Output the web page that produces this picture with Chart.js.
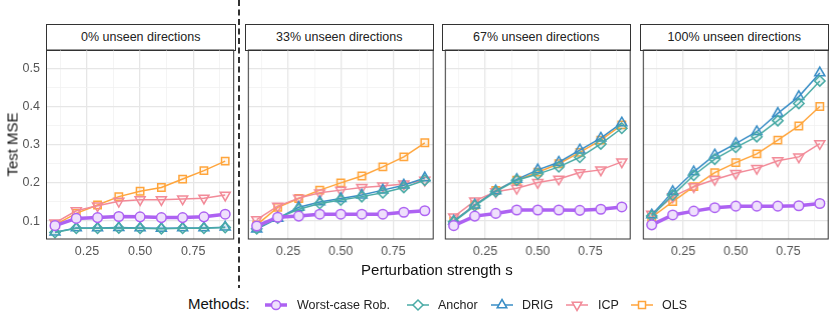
<!DOCTYPE html>
<html>
<head>
<meta charset="utf-8">
<script src="https://cdn.jsdelivr.net/npm/chart.js@4.4.1/dist/chart.umd.min.js"></script>
<style>
  body { margin: 0; background: #fff; font-family: "Liberation Sans", Arial, sans-serif; }
  #wrap { position: relative; width: 830px; height: 316px; overflow: hidden; }
  .cv { position: absolute; }
  .strip { position: absolute; top: 24px; height: 25px; border: 1px solid #333; background: #fff;
           font-size: 12.5px; color: #222; text-align: center; line-height: 25px; box-sizing: content-box; }
  .lbl { position: absolute; color: #111; white-space: nowrap; }
  .leg { position: absolute; top: 297px; }
  .legtxt { position: absolute; top: 297px; font-size: 12.5px; color: #222; line-height: 16px; white-space: nowrap; }
</style>
</head>
<body>
<div id="wrap">
  <svg style="position:absolute;left:0;top:0" width="830" height="316">
    <line x1="239" y1="0" x2="239" y2="288" stroke="#000" stroke-width="1.6" stroke-dasharray="6 3.5"/>
  </svg>
</div>
<script>
// perturbation strength
var strengths = [0.1, 0.2, 0.3, 0.4, 0.5, 0.6, 0.7, 0.8, 0.9];
var panels = ["0% unseen directions", "33% unseen directions", "67% unseen directions", "100% unseen directions"];
var methods = ["Worst-case Rob.", "Anchor", "DRIG", "ICP", "OLS"];
var yTicks = [0.1, 0.2, 0.3, 0.4, 0.5];
var xTicks = [0.25, 0.50, 0.75];

// Test MSE, one row per panel
var worstCase = [
  [0.088, 0.107, 0.109, 0.112, 0.111, 0.109, 0.109, 0.111, 0.118],
  [0.087, 0.110, 0.113, 0.118, 0.118, 0.118, 0.118, 0.123, 0.127],
  [0.088, 0.113, 0.120, 0.129, 0.129, 0.129, 0.128, 0.131, 0.137],
  [0.090, 0.116, 0.126, 0.135, 0.139, 0.139, 0.139, 0.140, 0.146]
];
var anchor = [
  [0.070, 0.081, 0.081, 0.082, 0.081, 0.080, 0.081, 0.081, 0.083],
  [0.080, 0.108, 0.131, 0.146, 0.155, 0.164, 0.174, 0.188, 0.207],
  [0.098, 0.140, 0.177, 0.207, 0.223, 0.242, 0.267, 0.302, 0.343],
  [0.113, 0.168, 0.220, 0.262, 0.293, 0.321, 0.363, 0.408, 0.467]
];
var drig = [
  [0.071, 0.082, 0.082, 0.083, 0.082, 0.081, 0.082, 0.082, 0.084],
  [0.079, 0.107, 0.136, 0.150, 0.159, 0.168, 0.181, 0.194, 0.213],
  [0.100, 0.142, 0.179, 0.209, 0.234, 0.254, 0.286, 0.317, 0.357],
  [0.116, 0.177, 0.229, 0.273, 0.303, 0.334, 0.382, 0.426, 0.488]
];
var icp = [
  [0.095, 0.127, 0.140, 0.152, 0.156, 0.156, 0.158, 0.160, 0.168],
  [0.104, 0.139, 0.160, 0.174, 0.181, 0.188, 0.192, 0.197, 0.207],
  [0.111, 0.153, 0.177, 0.186, 0.201, 0.210, 0.227, 0.234, 0.255],
  [0.118, 0.164, 0.190, 0.209, 0.225, 0.238, 0.258, 0.268, 0.303]
];
var ols = [
  [0.090, 0.120, 0.142, 0.164, 0.178, 0.188, 0.210, 0.232, 0.257],
  [0.090, 0.136, 0.159, 0.181, 0.200, 0.218, 0.242, 0.268, 0.305],
  [0.100, 0.142, 0.180, 0.207, 0.228, 0.250, 0.280, 0.312, 0.352],
  [0.110, 0.151, 0.190, 0.227, 0.253, 0.276, 0.312, 0.349, 0.400]
];

var series = [worstCase, anchor, drig, icp, ols];
var colors = ["#ad62f2", "#4aaba6", "#3a8ec6", "#f28a98", "#ffa53c"];
var fills  = ["#efe0fc", "rgba(74,171,166,0.12)", "rgba(58,142,198,0.10)", "rgba(242,138,152,0.10)", "rgba(255,165,60,0.10)"];
var shapes = ["circle", "rectRot", "triangle", "triangle", "rect"];
var rotations = [0, 0, 0, 180, 0];
var radii = [4.8, 5.2, 5.8, 5.8, 5.2];
var widths = [3.5, 1.5, 1.5, 1.5, 1.5];

var FONT = "'Liberation Sans', Arial, sans-serif";
var wrap = document.getElementById("wrap");
var plotLefts = [46.5, 245, 442, 640];
var plotW = 188.5, plotTop = 50, plotBottom = 239;

function isMajor(v, step) {
  return Math.abs(v / step - Math.round(v / step)) < 1e-6;
}

var panelBorder = {
  id: "panelBorder",
  afterDraw: function (chart) {
    var a = chart.chartArea, c = chart.ctx;
    c.save();
    c.strokeStyle = "#333";
    c.lineWidth = 1;
    c.strokeRect(a.left, a.top, a.right - a.left, a.bottom - a.top);
    c.restore();
  }
};

panels.forEach(function (title, p) {
  var first = p === 0;
  var padL = first ? 0 : 4;
  var left = first ? 0 : plotLefts[p] - padL;
  var canvasTop = 34, canvasH = 236;
  var w = plotLefts[p] + plotW - left + 6;

  var strip = document.createElement("div");
  strip.className = "strip";
  strip.style.left = (plotLefts[p] - 0.5) + "px";
  strip.style.width = (plotW - 1) + "px";
  strip.textContent = title;
  wrap.appendChild(strip);

  var holder = document.createElement("div");
  holder.className = "cv";
  holder.style.left = left + "px";
  holder.style.top = canvasTop + "px";
  holder.style.width = w + "px";
  holder.style.height = canvasH + "px";
  var cv = document.createElement("canvas");
  holder.appendChild(cv);
  wrap.appendChild(holder);

  var datasets = methods.map(function (m, i) {
    return {
      label: m,
      data: strengths.map(function (s, k) { return { x: s, y: series[i][p][k] }; }),
      borderColor: colors[i],
      backgroundColor: fills[i],
      borderWidth: widths[i],
      pointStyle: shapes[i],
      pointRotation: rotations[i],
      pointRadius: radii[i],
      pointBorderWidth: 1.5,
      pointBackgroundColor: fills[i],
      pointBorderColor: colors[i],
      tension: 0,
      clip: false
    };
  });

  new Chart(cv, {
    type: "line",
    data: { datasets: datasets },
    plugins: [panelBorder],
    options: {
      responsive: true,
      maintainAspectRatio: false,
      animation: false,
      events: [],
      layout: { padding: { top: plotTop - canvasTop, right: 6, left: padL, bottom: 0 } },
      plugins: { legend: { display: false }, tooltip: { enabled: false } },
      scales: {
        x: {
          type: "linear",
          min: 0.06, max: 0.94,
          afterBuildTicks: function (s) {
            s.ticks = [0.125, 0.25, 0.375, 0.5, 0.625, 0.75, 0.875].map(function (v) { return { value: v }; });
          },
          afterFit: function (s) { s.height = canvasTop + canvasH - plotBottom; },
          ticks: {
            autoSkip: false, maxRotation: 0, padding: 5,
            color: "#555", font: { family: FONT, size: 12.5 },
            callback: function (v) { return xTicks.some(function (t) { return Math.abs(t - v) < 1e-6; }) ? v.toFixed(2) : ""; }
          },
          grid: {
            drawTicks: false,
            color: function (c) { return c.tick && isMajor(c.tick.value, 0.25) ? "#e6e6e6" : "#f1f1f1"; },
            lineWidth: function (c) { return c.tick && isMajor(c.tick.value, 0.25) ? 1.3 : 0.8; }
          },
          border: { display: false }
        },
        y: {
          min: 0.053, max: 0.548,
          afterBuildTicks: function (s) {
            var t = [];
            for (var k = 0; k <= 8; k++) t.push({ value: Math.round((0.1 + k * 0.05) * 100) / 100 });
            s.ticks = t;
          },
          afterFit: function (s) { s.width = first ? plotLefts[0] : 0; },
          ticks: {
            display: first, padding: 6.5,
            color: "#555", font: { family: FONT, size: 12.5 },
            callback: function (v) { return yTicks.some(function (t) { return Math.abs(t - v) < 1e-6; }) ? v.toFixed(1) : ""; }
          },
          grid: {
            drawTicks: false,
            color: function (c) { return c.tick && isMajor(c.tick.value, 0.1) ? "#e6e6e6" : "#f1f1f1"; },
            lineWidth: function (c) { return c.tick && isMajor(c.tick.value, 0.1) ? 1.3 : 0.8; }
          },
          border: { display: false }
        }
      }
    }
  });
});

// axis titles
var yl = document.createElement("div");
yl.className = "lbl";
yl.style.cssText += "left:-23px;top:136px;width:70px;text-align:center;font-size:15px;transform:rotate(-90deg);";
yl.textContent = "Test MSE";
wrap.appendChild(yl);

var xl = document.createElement("div");
xl.className = "lbl";
xl.style.cssText += "left:337px;width:200px;text-align:center;top:261px;font-size:15px;";
xl.textContent = "Perturbation strength s";
wrap.appendChild(xl);

// legend
var legTitle = document.createElement("div");
legTitle.className = "lbl";
legTitle.style.cssText += "left:188px;top:295px;font-size:15px;";
legTitle.textContent = "Methods:";
wrap.appendChild(legTitle);

var glyphX = [265, 407, 491, 566, 631];
var textX = [297, 438, 522, 598, 662];
function glyph(i) {
  var c = colors[i], f = fills[i], sw = 1.5;
  var mk = "";
  if (shapes[i] === "circle") mk = '<circle cx="11" cy="8" r="4.5" fill="' + f + '" stroke="' + c + '" stroke-width="' + sw + '"/>';
  if (shapes[i] === "rectRot") mk = '<polygon points="11,3 16,8 11,13 6,8" fill="#fff" stroke="' + c + '" stroke-width="' + sw + '"/>';
  if (shapes[i] === "triangle" && rotations[i] === 0) mk = '<polygon points="11,2.5 15.8,10.8 6.2,10.8" fill="#fff" stroke="' + c + '" stroke-width="' + sw + '"/>';
  if (shapes[i] === "triangle" && rotations[i] === 180) mk = '<polygon points="11,13.5 15.8,5.2 6.2,5.2" fill="#fff" stroke="' + c + '" stroke-width="' + sw + '"/>';
  if (shapes[i] === "rect") mk = '<rect x="7.5" y="4.5" width="7" height="7" fill="#fff" stroke="' + c + '" stroke-width="' + sw + '"/>';
  return '<svg width="22" height="16"><line x1="0" y1="8" x2="22" y2="8" stroke="' + c + '" stroke-width="' + widths[i] + '"/>' + mk + '</svg>';
}
methods.forEach(function (m, i) {
  var g = document.createElement("div");
  g.className = "leg";
  g.style.left = glyphX[i] + "px";
  g.innerHTML = glyph(i);
  wrap.appendChild(g);
  var t = document.createElement("div");
  t.className = "legtxt";
  t.style.left = textX[i] + "px";
  t.textContent = m;
  wrap.appendChild(t);
});
</script>
</body>
</html>
